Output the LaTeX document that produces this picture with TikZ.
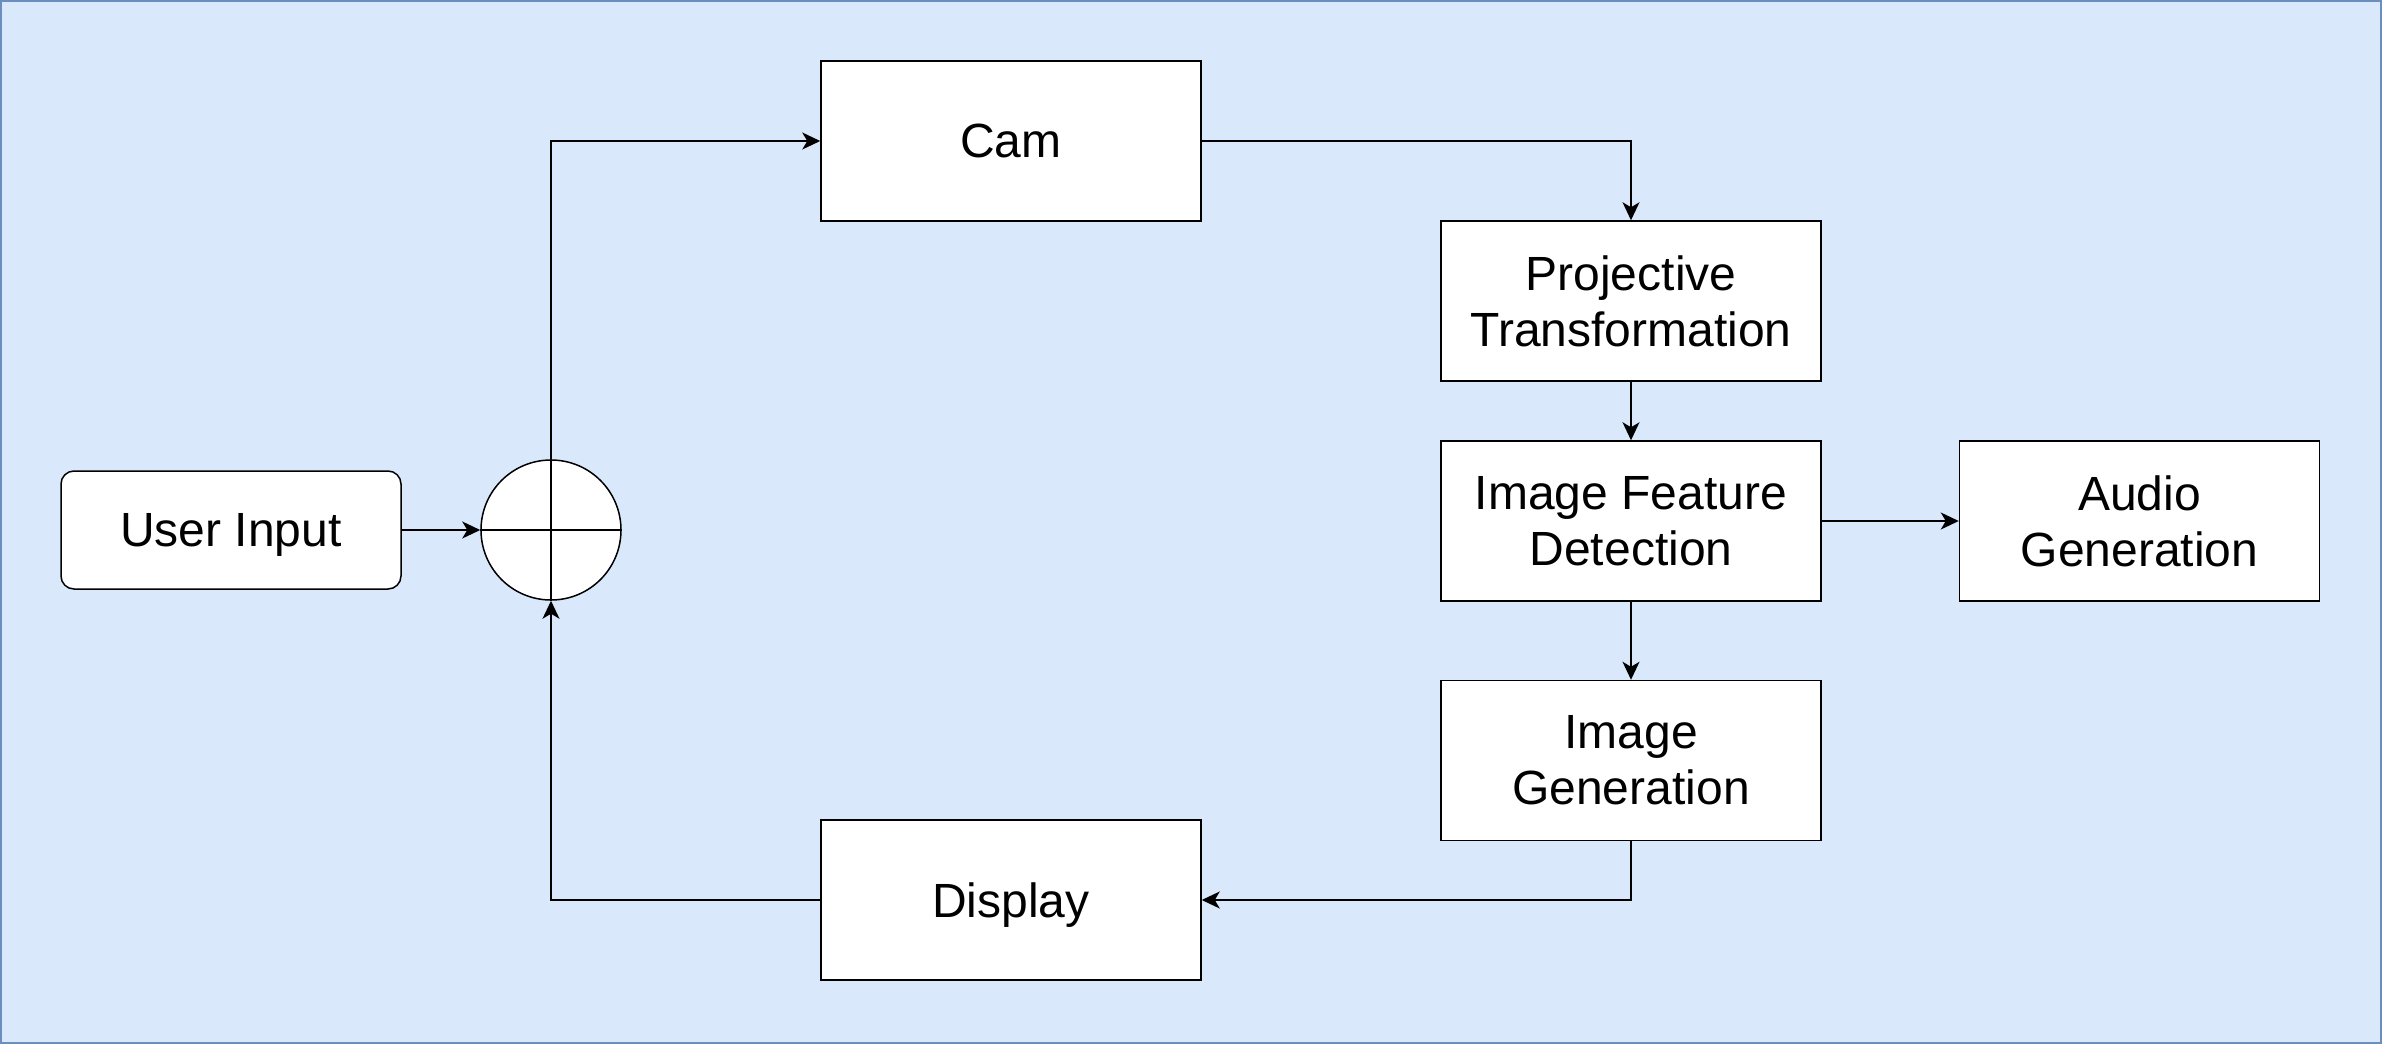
\documentclass[tikz,border=0pt]{standalone}
\usepackage{fontspec}
\setmainfont{Liberation Sans}
\usetikzlibrary{arrows.meta}
\definecolor{bgfill}{HTML}{DAE8FC}
\definecolor{bgline}{HTML}{6C8EBF}
\begin{document}
\begin{tikzpicture}[x=0.5pt,y=-0.5pt,
  box/.style={draw=black, fill=white, line width=0.75pt, minimum width=190pt,
    minimum height=80pt, inner sep=0pt, align=center,
    font=\fontsize{24}{28}\selectfont},
  conn/.style={line width=0.75pt, -{Stealth[length=9pt,width=8.5pt,inset=2.5pt]}}
]
\useasboundingbox (0,0) rectangle (2382,1044);
\fill[bgfill] (0,0) rectangle (2382,1044);
\draw[bgline, line width=1pt] (1,1) rectangle (2381,1043);

\node[box] (cam) at (1011,141) {Cam};
\node[box] (proj) at (1631,301) {Projective\\Transformation};
\node[box] (ifd) at (1631,521) {Image Feature\\Detection};
\node[box, minimum width=180pt] (audio) at (2139.5,521) {Audio\\Generation};
\node[box] (igen) at (1631,760.5) {Image\\Generation};
\node[box, text depth=0pt] (disp) at (1011,900) {Display};
\node[box, rounded corners=6.5pt, minimum width=170pt, minimum height=59pt, text depth=0pt] (user) at (231,530) {User Input};
\node[circle, draw=black, fill=white, line width=0.75pt, minimum size=70pt, inner sep=0pt] (sum) at (551,530) {};
\draw[line width=0.75pt] (sum.west) -- (sum.east) (sum.north) -- (sum.south);

\draw[conn] (user.east) -- (sum.west);
\draw[conn] (sum.north) |- (cam.west);
\draw[conn] (cam.east) -| (proj.north);
\draw[conn] (proj) -- (ifd);
\draw[conn] (ifd) -- (audio);
\draw[conn] (ifd) -- (igen);
\draw[conn] (igen.south) |- (disp.east);
\draw[conn] (disp.west) -| (sum.south);
\end{tikzpicture}
\end{document}
